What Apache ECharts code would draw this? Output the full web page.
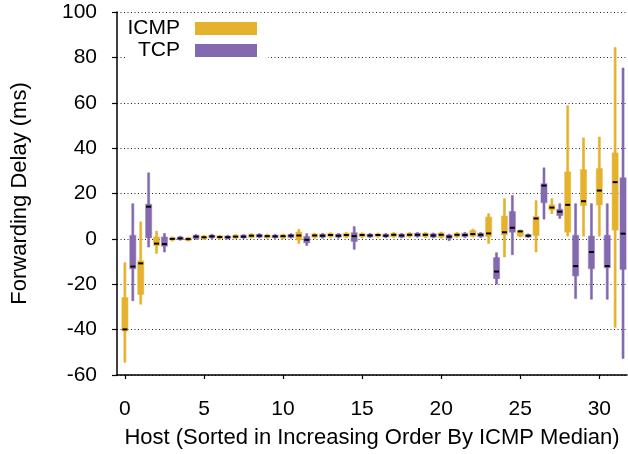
<!DOCTYPE html>
<html>
<head>
<meta charset="utf-8">
<style>
  html, body { margin: 0; padding: 0; background: #fff; }
  #chart { width: 628px; height: 454px; }
</style>
<script src="https://cdn.jsdelivr.net/npm/echarts@6/dist/echarts.min.js"></script>
</head>
<body>
<div id="chart"></div>
<script>
// Hosts, sorted by ICMP median
const hosts = Array.from({ length: 32 }, (_, i) => i);

// Per host: [min, q1, median, q3, max] in ms
const icmpStats = [
  [-54.4, -40.5, -39.9, -25.9, -10.5],
  [-28.8, -24.5, -10.8, -9.7, 7.5],
  [-6.4, -2.9, -2.1, 0.8, 3.4],
  [-1.0, -0.5, 0.0, 0.5, 0.9],
  [-1.0, -0.6, -0.1, 0.5, 0.8],
  [-0.3, 0.1, 0.7, 1.2, 1.6],
  [-0.2, 0.2, 0.8, 1.3, 1.7],
  [0.0, 0.4, 1.0, 1.5, 1.9],
  [0.3, 0.7, 1.4, 1.9, 2.3],
  [0.1, 0.5, 1.2, 1.7, 2.1],
  [0.0, 0.4, 1.2, 1.8, 2.2],
  [-2.0, -0.5, 1.5, 3.0, 4.2],
  [0.3, 0.8, 1.5, 2.1, 2.5],
  [0.5, 1.0, 1.7, 2.3, 2.7],
  [0.4, 0.9, 1.7, 2.4, 2.8],
  [0.5, 1.0, 1.7, 2.3, 2.7],
  [0.6, 1.1, 1.7, 2.2, 2.6],
  [0.6, 1.0, 1.8, 2.4, 2.8],
  [0.7, 1.1, 1.8, 2.4, 2.8],
  [0.6, 1.0, 1.8, 2.4, 2.8],
  [0.3, 0.8, 1.8, 2.6, 3.0],
  [0.6, 1.0, 1.8, 2.4, 2.8],
  [0.8, 1.2, 2.1, 3.7, 4.3],
  [-2.0, 1.0, 2.4, 9.6, 11.1],
  [-8.0, 1.8, 2.9, 10.0, 17.7],
  [0.9, 1.2, 3.3, 3.7, 4.0],
  [-5.8, 1.5, 9.0, 9.8, 16.9],
  [11.1, 12.8, 13.8, 15.0, 17.7],
  [1.2, 3.0, 15.0, 29.5, 58.7],
  [1.2, 14.7, 16.6, 30.5, 44.5],
  [1.2, 15.0, 21.3, 31.0, 44.9],
  [-39.0, 3.9, 25.0, 37.9, 84.3]
];

const tcpStats = [
  [-27.3, -13.1, -12.2, 1.5, 15.5],
  [-3.6, 0.5, 14.2, 15.2, 29.1],
  [-5.8, -3.2, -2.3, 0.8, 2.4],
  [-0.6, -0.2, 0.2, 0.8, 1.2],
  [-0.2, 0.2, 1.0, 1.5, 1.9],
  [0.1, 0.5, 1.1, 1.6, 2.0],
  [-0.1, 0.3, 0.7, 1.2, 1.6],
  [0.2, 0.5, 1.0, 1.5, 1.9],
  [0.4, 0.8, 1.4, 1.9, 2.3],
  [0.2, 0.6, 1.1, 1.6, 2.0],
  [0.3, 0.7, 1.4, 1.9, 2.3],
  [-2.9, -1.7, -0.4, 1.0, 2.3],
  [0.3, 0.8, 1.4, 2.0, 2.4],
  [0.3, 0.8, 1.4, 2.0, 2.4],
  [-4.6, -1.1, 1.2, 2.7, 5.4],
  [0.5, 0.9, 1.5, 2.0, 2.4],
  [0.5, 0.9, 1.4, 2.0, 2.4],
  [0.4, 0.8, 1.5, 2.0, 2.4],
  [0.7, 1.1, 1.8, 2.4, 2.8],
  [0.4, 0.8, 1.5, 2.2, 2.6],
  [-0.8, 0.2, 1.0, 1.7, 2.1],
  [0.6, 1.0, 1.7, 2.4, 2.8],
  [0.6, 1.0, 1.8, 2.4, 2.8],
  [-20.0, -17.5, -14.4, -8.3, -6.1],
  [-7.0, 3.0, 4.9, 12.0, 19.1],
  [0.6, 1.0, 1.4, 1.8, 2.2],
  [8.7, 16.0, 23.5, 24.3, 31.3],
  [9.0, 10.3, 12.0, 13.0, 15.5],
  [-26.3, -16.3, -12.0, 1.5, 15.5],
  [-26.6, -13.1, -5.8, 1.2, 15.5],
  [-26.6, -12.7, -12.0, 1.5, 15.5],
  [-52.7, -13.4, 2.3, 26.9, 75.3]
];

const xTicks = [0, 5, 10, 15, 20, 25, 30];
const seriesNames = ['ICMP', 'TCP'];

const COLORS = { ICMP: '#E4B22C', TCP: '#8369AF' };
const FONT = 'Liberation Sans, Arial, Helvetica, sans-serif';
const TCP_SHIFT = 0.5; // TCP box sits half a host to the right of the ICMP box
const Y_MIN = -60, Y_MAX = 100, Y_STEP = 20;

function toRows(stats, shift) {
  return stats.map((s, i) => [hosts[i] + shift].concat(s));
}

function boxRenderer(color) {
  return function (params, api) {
    const x = api.value(0);
    const pMin = api.coord([x, api.value(1)]);
    const pQ1 = api.coord([x, api.value(2)]);
    const pMed = api.coord([x, api.value(3)]);
    const pQ3 = api.coord([x, api.value(4)]);
    const pMax = api.coord([x, api.value(5)]);
    const cx = pMed[0];
    const boxW = 6, whiskW = 2, medW = 5;
    return {
      type: 'group',
      children: [
        {
          type: 'rect',
          shape: { x: cx - whiskW / 2, y: pMax[1], width: whiskW, height: pMin[1] - pMax[1] },
          style: { fill: color, stroke: color, lineWidth: 0.6 }
        },
        {
          type: 'rect',
          shape: { x: cx - boxW / 2, y: pQ3[1], width: boxW, height: Math.max(pQ1[1] - pQ3[1], 2) },
          style: { fill: color, stroke: color, strokeOpacity: 0.45, lineWidth: 1.2 }
        },
        {
          type: 'rect',
          shape: { x: cx - medW / 2, y: pMed[1] - 1, width: medW, height: 2 },
          style: { fill: '#000' }
        }
      ]
    };
  };
}

const chart = echarts.init(document.getElementById('chart'), null, { renderer: 'canvas' });

const legendBase = {
  orient: 'vertical',
  align: 'right',
  right: 360,
  itemWidth: 62,
  itemHeight: 13,
  backgroundColor: '#fff',
  borderWidth: 0,
  selectedMode: false,
  z: 4,
  textStyle: { fontFamily: FONT, fontSize: 21, color: '#000', padding: [0, 10, 0, 0] }
};

chart.setOption({
  animation: false,
  backgroundColor: '#fff',
  textStyle: { fontFamily: FONT },
  grid: { left: 117, right: 1, top: 12, bottom: 78, containLabel: false },
  legend: [
    Object.assign({}, legendBase, {
      top: 13,
      padding: [5, 11, 2, 4],
      data: [{ name: seriesNames[0], icon: 'rect', itemStyle: { color: COLORS.ICMP } }]
    }),
    Object.assign({}, legendBase, {
      top: 38,
      padding: [2, 11, 4, 12],
      data: [{ name: seriesNames[1], icon: 'rect', itemStyle: { color: COLORS.TCP } }]
    })
  ],
  xAxis: {
    type: 'value',
    min: -0.5,
    max: 31.75,
    name: 'Host (Sorted in Increasing Order By ICMP Median)',
    nameLocation: 'middle',
    nameGap: 52,
    nameTextStyle: { fontFamily: FONT, fontSize: 22, color: '#000' },
    axisLine: { show: true, onZero: false, lineStyle: { color: '#000', width: 1.5 } },
    axisTick: { show: true, length: 4, customValues: xTicks, lineStyle: { color: '#000', width: 1.2 } },
    axisLabel: { customValues: xTicks, fontFamily: FONT, fontSize: 21, color: '#000', margin: 24 },
    splitLine: { show: false }
  },
  yAxis: [
    {
      // labels, name and dotted grid
      type: 'value',
      position: 'left',
      min: Y_MIN,
      max: Y_MAX,
      interval: Y_STEP,
      name: 'Forwarding Delay (ms)',
      nameLocation: 'middle',
      nameGap: 86,
      nameTextStyle: { fontFamily: FONT, fontSize: 22, color: '#000' },
      axisLine: { show: false },
      axisTick: { show: false },
      axisLabel: { fontFamily: FONT, fontSize: 21, color: '#000', margin: 20 },
      splitLine: { show: true, lineStyle: { color: '#222', width: 1, type: [1, 2.5] } }
    },
    {
      // axis line and ticks, kept above the legend box
      type: 'value',
      position: 'left',
      min: Y_MIN,
      max: Y_MAX,
      interval: Y_STEP,
      z: 6,
      axisLine: { show: true, lineStyle: { color: '#000', width: 1.5 } },
      axisTick: { show: true, length: 5, lineStyle: { color: '#000', width: 1.2 } },
      axisLabel: { show: false },
      splitLine: { show: false }
    }
  ],
  series: [
    {
      name: seriesNames[0],
      type: 'custom',
      itemStyle: { color: COLORS.ICMP },
      renderItem: boxRenderer(COLORS.ICMP),
      encode: { x: 0, y: [1, 2, 3, 4, 5] },
      data: toRows(icmpStats, 0),
      z: 3
    },
    {
      name: seriesNames[1],
      type: 'custom',
      itemStyle: { color: COLORS.TCP },
      renderItem: boxRenderer(COLORS.TCP),
      encode: { x: 0, y: [1, 2, 3, 4, 5] },
      data: toRows(tcpStats, TCP_SHIFT),
      z: 3
    }
  ]
});
</script>
</body>
</html>
